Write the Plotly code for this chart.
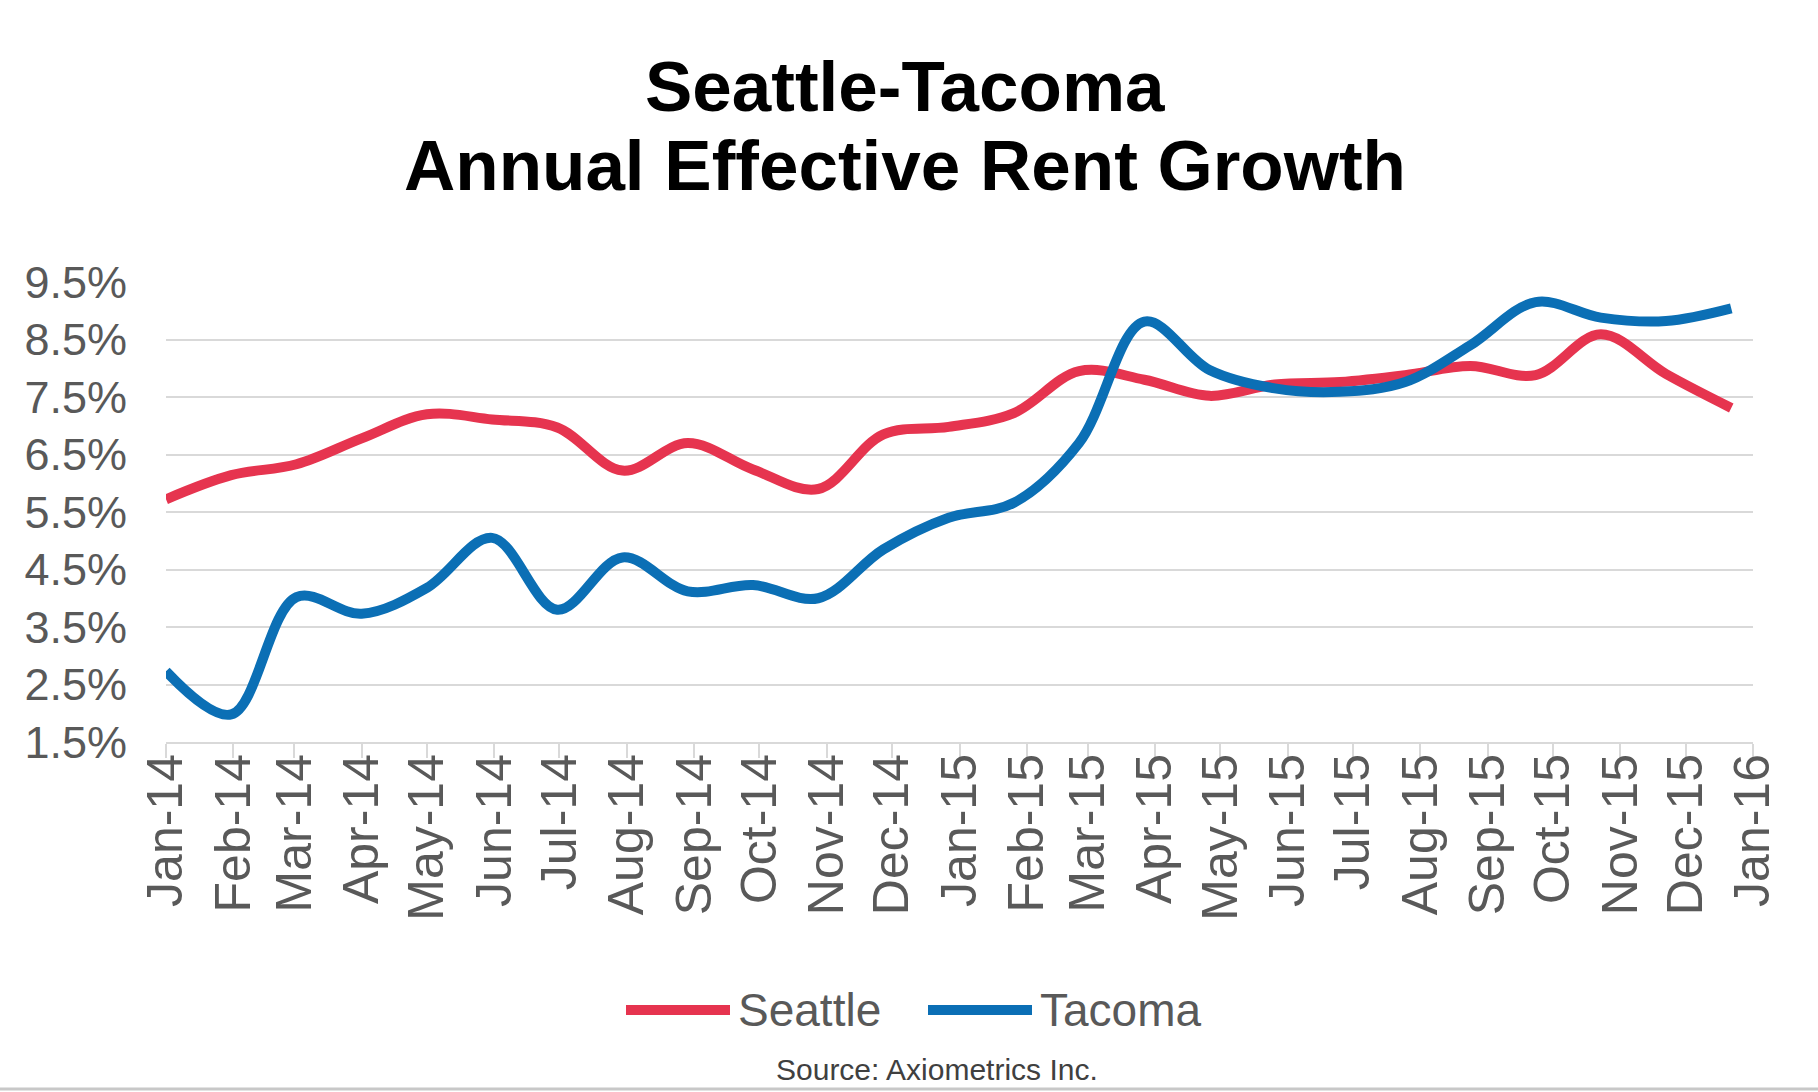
import plotly.graph_objects as go

# ---------------- data ----------------
point_dates = [
    "2014-01-01", "2014-01-31", "2014-03-02", "2014-04-01", "2014-05-01",
    "2014-05-31", "2014-06-30", "2014-07-30", "2014-08-29", "2014-09-28",
    "2014-10-28", "2014-11-27", "2014-12-27", "2015-01-26", "2015-02-25",
    "2015-03-27", "2015-04-26", "2015-05-26", "2015-06-25", "2015-07-25",
    "2015-08-24", "2015-09-23", "2015-10-23", "2015-11-22", "2015-12-22",
]
seattle = [5.72, 6.14, 6.33, 6.78, 7.20, 7.11, 6.97, 6.22, 6.70, 6.24,
           5.90, 6.85, 6.98, 7.22, 7.95, 7.80, 7.52, 7.72, 7.76, 7.88,
           8.04, 7.88, 8.59, 7.90, 7.31]
tacoma = [2.73, 1.98, 4.02, 3.73, 4.18, 5.05, 3.80, 4.71, 4.12, 4.23,
          4.00, 4.85, 5.40, 5.66, 6.70, 8.81, 7.97, 7.65, 7.59, 7.76,
          8.40, 9.15, 8.88, 8.82, 9.04]
series_names = ["Seattle", "Tacoma"]

tick_dates = [
    "2014-01-01", "2014-02-01", "2014-03-01", "2014-04-01", "2014-05-01",
    "2014-06-01", "2014-07-01", "2014-08-01", "2014-09-01", "2014-10-01",
    "2014-11-01", "2014-12-01", "2015-01-01", "2015-02-01", "2015-03-01",
    "2015-04-01", "2015-05-01", "2015-06-01", "2015-07-01", "2015-08-01",
    "2015-09-01", "2015-10-01", "2015-11-01", "2015-12-01", "2016-01-01",
]
tick_labels = [
    "Jan-14", "Feb-14", "Mar-14", "Apr-14", "May-14", "Jun-14", "Jul-14",
    "Aug-14", "Sep-14", "Oct-14", "Nov-14", "Dec-14", "Jan-15", "Feb-15",
    "Mar-15", "Apr-15", "May-15", "Jun-15", "Jul-15", "Aug-15", "Sep-15",
    "Oct-15", "Nov-15", "Dec-15", "Jan-16",
]
y_ticks = [1.5, 2.5, 3.5, 4.5, 5.5, 6.5, 7.5, 8.5, 9.5]
y_labels = ["1.5%", "2.5%", "3.5%", "4.5%", "5.5%", "6.5%", "7.5%", "8.5%", "9.5%"]

title_lines = ["Seattle-Tacoma", "Annual Effective Rent Growth"]
source_text = "Source: Axiometrics Inc."

# ---------------- styling / layout ----------------
W, H = 1818, 1092
L, R, T, B = 166, 65, 282, 350
PW, PH = W - L - R, H - T - B
colors = ["#E6344F", "#0B6FB5"]
grid = "#D9D9D9"
sans = "Liberation Sans, Arial, sans-serif"
y_tick_font = dict(family=sans, size=45, color="#595959")
x_tick_font = dict(family=sans, size=50, color="#595959")


def px(x):
    return (x - L) / PW


def py(y):
    return (T + PH - y) / PH


fig = go.Figure()
for name, vals, col in zip(series_names, [seattle, tacoma], colors):
    fig.add_trace(go.Scatter(
        x=point_dates, y=vals, name=name, mode="lines",
        line=dict(color=col, width=10, shape="spline", smoothing=1.0),
        showlegend=False,
    ))

annotations = []
shapes = []
# title
for txt, yc in zip(title_lines, [86, 166]):
    annotations.append(dict(
        text="<b>%s</b>" % txt, xref="paper", yref="paper",
        x=px(905), y=py(yc), xanchor="center", yanchor="middle",
        showarrow=False,
        font=dict(family=sans, size=71, color="#000000"),
    ))
# manual legend
leg_y = 1010
for name, col, x0, x1 in zip(series_names, colors, [626, 928], [730, 1032]):
    shapes.append(dict(type="line", xref="paper", yref="paper",
                       x0=px(x0), x1=px(x1), y0=py(leg_y), y1=py(leg_y),
                       line=dict(color=col, width=10)))
    annotations.append(dict(
        text=name, xref="paper", yref="paper", x=px(x1 + 6), y=py(leg_y),
        xanchor="left", yanchor="middle", showarrow=False,
        font=dict(family=sans, size=46, color="#595959"),
    ))
# source
annotations.append(dict(
    text=source_text, xref="paper", yref="paper", x=px(937), y=py(1069),
    xanchor="center", yanchor="middle", showarrow=False,
    font=dict(family=sans, size=30, color="#404040"),
))
# bottom border line
shapes.append(dict(type="line", xref="paper", yref="paper",
                   x0=px(0), x1=px(W), y0=py(1089), y1=py(1089),
                   line=dict(color="#C8C8C8", width=3)))

fig.update_layout(
    width=W, height=H,
    margin=dict(l=L, r=R, t=T, b=B),
    paper_bgcolor="white", plot_bgcolor="white",
    annotations=annotations, shapes=shapes,
    showlegend=False,
)
fig.update_xaxes(
    type="date", range=["2014-01-01", "2016-01-01"],
    tickmode="array", tickvals=tick_dates, ticktext=tick_labels,
    tickangle=-90, tickfont=x_tick_font,
    showgrid=False, showline=True, linecolor=grid, linewidth=2,
    ticks="outside", ticklen=14, tickwidth=2, tickcolor=grid,
    ticklabelstandoff=-24, zeroline=False,
)
fig.update_yaxes(
    range=[1.5, 9.5], tickmode="array", tickvals=y_ticks, ticktext=y_labels,
    tickfont=y_tick_font, showgrid=True, gridcolor=grid, gridwidth=2,
    showline=False, zeroline=False, ticks="", ticklabelstandoff=38,
)

fig.write_html(
    "out.html",
    config={"displayModeBar": False},
    post_script="document.body.style.margin='0';document.body.style.overflow='hidden';",
)
